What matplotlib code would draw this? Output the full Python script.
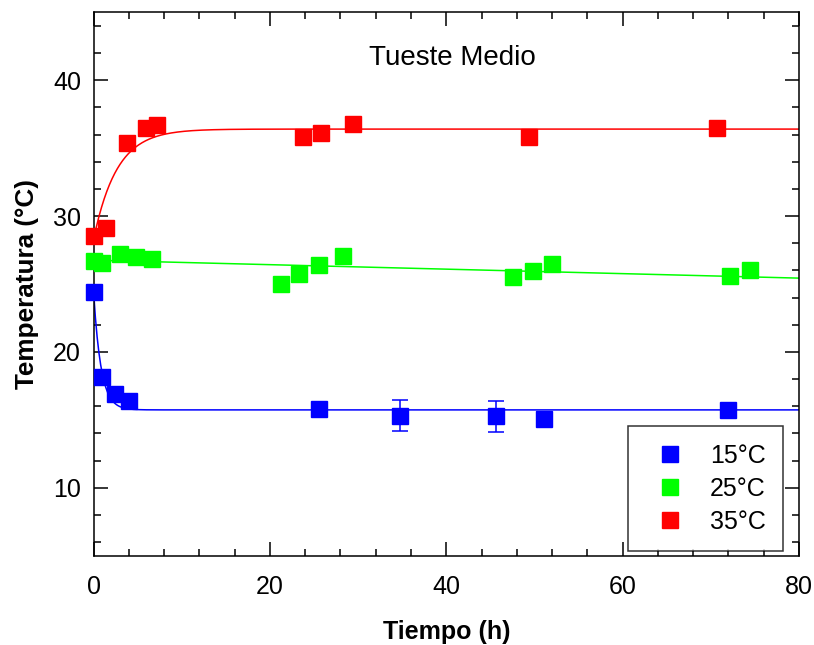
import numpy as np
import matplotlib
matplotlib.use("Agg")
import matplotlib.pyplot as plt
from matplotlib.ticker import MultipleLocator

plt.rcParams['font.family'] = ['Liberation Sans', 'DejaVu Sans']

# measured points
t15 = [0.0, 0.9, 2.4, 4.0, 25.6, 34.8, 45.6, 51.1, 71.9]
T15 = [24.4, 18.15, 16.9, 16.35, 15.8, 15.3, 15.25, 15.05, 15.7]
err15 = [0, 0, 0, 0, 0, 1.13, 1.15, 0, 0]

t25 = [0.0, 1.0, 3.0, 4.8, 6.6, 21.3, 23.3, 25.6, 28.3, 47.6, 49.8, 52.0, 72.2, 74.5]
T25 = [26.7, 26.55, 27.2, 27.0, 26.85, 25.0, 25.7, 26.4, 27.05, 25.5, 25.95, 26.5, 25.55, 26.0]

t35 = [0.0, 1.4, 3.8, 5.9, 7.2, 23.7, 25.8, 29.4, 49.4, 70.7]
T35 = [28.55, 29.1, 35.35, 36.45, 36.7, 35.85, 36.1, 36.8, 35.85, 36.5]

# fitted model parameters
fit15 = (15.73, 24.4, 1.2)     # plateau, start, rate
fit25 = (26.75, -0.0165)       # intercept, slope
fit35 = (36.4, 28.3, 0.38)     # plateau, start, rate

labels = ['15°C', '25°C', '35°C']
colors = ['#0000ff', '#00ff00', '#ff0000']

fig = plt.figure(figsize=(8.14, 6.45), dpi=100)
ax = fig.add_axes([0.115, 0.1385, 0.8665, 0.8425])

tt = np.linspace(0, 80, 801)
ax.plot(tt, fit15[0] - (fit15[0] - fit15[1]) * np.exp(-fit15[2] * tt), color=colors[0], lw=1.1, zorder=2)
ax.plot(tt, fit25[0] + fit25[1] * tt, color=colors[1], lw=1.1, zorder=2)
ax.plot(tt, fit35[0] - (fit35[0] - fit35[1]) * np.exp(-fit35[2] * tt), color=colors[2], lw=1.1, zorder=2)

# error bars (only where they are drawn)
e = np.array(err15)
m = e > 0
ax.errorbar(np.array(t15)[m], np.array(T15)[m], yerr=e[m], fmt='none',
            ecolor=colors[0], elinewidth=1.1, capsize=6, capthick=1.1, zorder=2)

for t, T, c, lab in zip([t15, t25, t35], [T15, T25, T35], colors, labels):
    ax.plot(t, T, 's', color=c, ms=11.8, mec=c, label=lab, zorder=3, clip_on=False)

ax.set_xlim(0, 80)
ax.set_ylim(5, 45)
ax.xaxis.set_major_locator(MultipleLocator(20))
ax.xaxis.set_minor_locator(MultipleLocator(4))
ax.yaxis.set_minor_locator(MultipleLocator(2))
ax.yaxis.set_ticks([10, 20, 30, 40])
ax.tick_params(which='both', direction='in', top=True, right=True, labelsize=18, width=1.1)
ax.tick_params(which='major', length=10)
ax.tick_params(which='minor', length=5)
ax.tick_params(axis='x', pad=14)
ax.tick_params(axis='y', pad=9)
for s in ax.spines.values():
    s.set_linewidth(1.1)

ax.set_xlabel('Tiempo (h)', fontsize=18, fontweight='bold', labelpad=15)
ax.set_ylabel('Temperatura (°C)', fontsize=18.8, fontweight='bold', labelpad=10)
ax.text(40.7, 41.6, 'Tueste Medio', fontsize=20, ha='center', va='center')

leg = ax.legend(loc='lower right', bbox_to_anchor=(0.978, 0.008), fontsize=18, frameon=True,
                fancybox=False, edgecolor='black', handletextpad=0.6, borderpad=0.7,
                labelspacing=0.36, handlelength=2.0, borderaxespad=0)
leg.get_frame().set_linewidth(1.1)

fig.savefig('out.png', dpi=100)
